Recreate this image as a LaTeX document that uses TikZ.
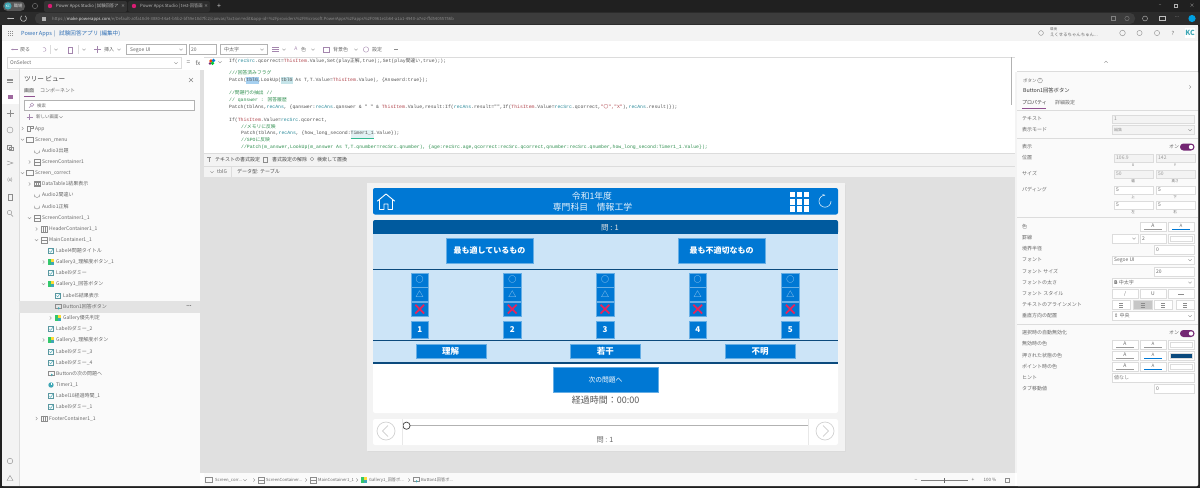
\documentclass[tikz,border=0pt]{standalone}
\usepackage{fontspec}
\usetikzlibrary{arrows.meta}
\setmainfont{Noto Sans CJK JP}
\newfontfamily\cjk{Noto Sans CJK JP}
\newfontfamily\monof{Liberation Mono}
\newfontfamily\dejavu{DejaVu Sans}
\definecolor{chrome}{HTML}{202020}
\definecolor{chromeb}{HTML}{2B2B2B}
\definecolor{tabc}{HTML}{333333}
\definecolor{barg}{HTML}{F3F3F3}
\definecolor{pane}{HTML}{FAFAFA}
\definecolor{canvasg}{HTML}{E0E0E0}
\definecolor{txt}{HTML}{686868}
\definecolor{icong}{HTML}{8C8C8C}
\definecolor{lin}{HTML}{DCDCDC}
\definecolor{pap}{HTML}{742774}
\definecolor{picon}{HTML}{A486AE}
\definecolor{appb}{HTML}{2F6FB5}
\definecolor{ablue}{HTML}{0078D4}
\definecolor{dblue}{HTML}{005A9E}
\definecolor{nblue}{HTML}{0B4A7D}
\definecolor{lblue}{HTML}{CCE4F7}
\definecolor{cvar}{HTML}{2A8A9A}
\definecolor{cthis}{HTML}{B0444C}
\definecolor{ccom}{HTML}{2F8F4F}
\definecolor{ccode}{HTML}{505050}
\definecolor{tealic}{HTML}{3FA7B5}
\definecolor{crim}{HTML}{E8245A}
\tikzset{
 lbl/.style={anchor=west,inner sep=0,text=txt,text height=3.8pt,text depth=.8pt,font=\fontsize{5}{6}\selectfont},
 ctr/.style={anchor=center,inner sep=0,text=txt,font=\fontsize{5}{6}\selectfont},
 code/.style={anchor=west,inner sep=0,text=ccode,text height=3.6pt,text depth=1pt,font=\fontsize{4.8}{6}\monof},
 ic/.style={draw=#1,line width=.4pt,fill=none},
 ic/.default={icong},
 fieldbox/.style={draw=lin,line width=.5pt,fill=white},
 ablock/.style={fill=ablue,draw=ablue!60,line width=.4pt},
}
\newcommand\J[1]{{\cjk #1}}
\newcommand\kVar[1]{\textcolor{cvar}{#1}}
\newcommand\kThis[1]{\textcolor{cthis}{#1}}
% tree icons
\newcommand\icoS[2]{\draw[ic] (#1-3.5,#2-2.5) rectangle (#1+3.5,#2+2.5);}
\newcommand\icoC[2]{\draw[ic] (#1-3,#2-2.8) rectangle (#1+3,#2+2.8); \draw[ic] (#1-3,#2) -- (#1+3,#2);}
\newcommand\icoH[2]{\draw[ic] (#1-3,#2-2.8) rectangle (#1+3,#2+2.8); \draw[ic] (#1-1,#2-2.8) -- (#1-1,#2+2.8) (#1+1,#2-2.8) -- (#1+1,#2+2.8);}
\newcommand\icoL[2]{\draw[ic=tealic!60!gray] (#1-2.5,#2-2.5) rectangle (#1+2.5,#2+2.5); \draw[ic=tealic] (#1-1.5,#2) -- (#1-.3,#2+1.3) -- (#1+2,#2-2);}
\newcommand\icoG[2]{\fill[green!45!teal!80] (#1-2.8,#2-2.8) rectangle (#1,#2+2.8); \fill[yellow!70!orange!80] (#1,#2-2.8) rectangle (#1+2.8,#2); \fill[tealic] (#1,#2) rectangle (#1+2.8,#2+2.8);}
\newcommand\icoB[2]{\draw[ic] (#1-3,#2-2.5) rectangle (#1+3,#2+1.2); \fill[tealic] (#1,#2) -- (#1+2.2,#2+1.5) -- (#1+.8,#2+1.8) -- (#1+.4,#2+3) -- cycle;}
\newcommand\icoA[2]{\draw[ic] (#1-2.5,#2+2) -- (#1-2.5,#2) arc (180:0:2.5) -- (#1+2.5,#2+2);}
\newcommand\icoT[2]{\draw[ic] (#1-3,#2-2.5) rectangle (#1+3,#2+2.5); \fill[icong] (#1-3,#2-2.5) rectangle (#1+3,#2-1); \draw[ic] (#1-1,#2-2.5) -- (#1-1,#2+2.5) (#1+1,#2-2.5) -- (#1+1,#2+2.5) (#1-3,#2+.7) -- (#1+3,#2+.7);}
\newcommand\icoM[2]{\fill[tealic] (#1,#2) circle (2.7); \draw[ic=white] (#1,#2) -- (#1,#2-1.8);}
\newcommand\icoP[2]{\draw[ic] (#1-2.8,#2-2.8) rectangle (#1,#2+2.8); \draw[ic] (#1,#2-2.8) rectangle (#1+2.8,#2);}
% tree row: depth y icon text
\newcommand\chevR[2]{\draw[ic] (#1-.8,#2-1.6) -- (#1+.8,#2) -- (#1-.8,#2+1.6);}
\newcommand\chevD[2]{\draw[ic] (#1-1.6,#2-.8) -- (#1,#2+.8) -- (#1+1.6,#2-.8);}
\newcommand\chevU[2]{\draw[ic] (#1-1.6,#2+.8) -- (#1,#2-.8) -- (#1+1.6,#2+.8);}
\newcommand\rowpos[1]{\pgfmathsetmacro\chx{22.5+#1*7}\pgfmathsetmacro\icx{30+#1*7}\pgfmathsetmacro\tex{35+#1*7}}
\newcommand\rowR[4]{\rowpos{#1}\chevR{\chx}{#2}\csname ico#3\endcsname{\icx}{#2}\node[lbl] at (\tex,#2) {#4};}
\newcommand\rowD[4]{\rowpos{#1}\chevD{\chx}{#2}\csname ico#3\endcsname{\icx}{#2}\node[lbl] at (\tex,#2) {#4};}
\newcommand\rowN[4]{\rowpos{#1}\csname ico#3\endcsname{\icx}{#2}\node[lbl] at (\tex,#2) {#4};}
% property panel helpers
\newcommand\pl[2]{\node[lbl] at (1022,#1) {#2};}
\newcommand\fb[5]{\draw[fieldbox] (#1,#3) rectangle (#2,#4); \node[lbl] at (#1+2,{(#3+#4)/2}) {#5};}
\newcommand\fbd[5]{\draw[fieldbox,fill=barg] (#1,#3) rectangle (#2,#4); \node[lbl,text=gray!80] at (#1+2,{(#3+#4)/2}) {#5};}
\newcommand\colA[2]{\draw[fieldbox] (#1,#2-4.5) rectangle (#1+26,#2+4.5); \node[ctr] at (#1+13,#2-.5) {A}; \draw[gray!80,line width=.5pt] (#1+4,#2+3) -- (#1+22,#2+3);}
\newcommand\colF[3]{\draw[fieldbox] (#1,#2-4.5) rectangle (#1+26,#2+4.5); \node[ctr] at (#1+13,#2-1) {\fontsize{4.5}{5}\selectfont A}; \draw[#3,line width=.7pt] (#1+4,#2+3) -- (#1+22,#2+3);}
\newcommand\colS[3]{\draw[fieldbox] (#1,#2-4.5) rectangle (#1+26,#2+4.5); \fill[#3] (#1+2,#2-2.5) rectangle (#1+24,#2+2.5); \draw[lin,line width=.3pt] (#1+2,#2-2.5) rectangle (#1+24,#2+2.5);}
\begin{document}
\begin{tikzpicture}[x=1pt,y=-1pt]
\useasboundingbox (0,0) rectangle (1200,488);
\fill[chrome] (0,0) rectangle (1200,488);
% browser chrome
\fill[chromeb] (0,12) rectangle (1200,25);
\fill[tabc,rounded corners=2pt] (44,1) rectangle (127,12);
\fill[tabc!70!chrome,rounded corners=2pt] (128,1) rectangle (210,12);
\fill[white!25!chrome,rounded corners=4.5pt] (3,1.5) rectangle (25,11);
\fill[tealic] (8,6) circle (3.6);
\node[ctr,text=white,font=\fontsize{3.2}{4}\selectfont] at (8,6) {KC};
\node[ctr,text=white!85!black,font=\fontsize{4.2}{5}\selectfont] at (18,6) {職場};
\draw[ic=gray] (35,6) circle (2.6);
\fill[magenta!60!purple] (50,6) circle (2.2);
\node[lbl,text=white!75!black,font=\fontsize{4.3}{5}\selectfont] at (56,6) {Power Apps Studio | 試験回答ア};
\node[ctr,text=white!75!black] at (123,6) {\fontsize{4}{5}\selectfont ×};
\fill[magenta!60!purple] (134,6) circle (2.2);
\node[lbl,text=white!70!black,font=\fontsize{4.3}{5}\selectfont] at (140,6) {Power Apps Studio | test-回答画};
\node[ctr,text=white!75!black] at (206,6) {\fontsize{4}{5}\selectfont ×};
\node[ctr,text=white!80!black,font=\fontsize{7}{8}\selectfont] at (219,6) {+};
\node[ctr,text=white!70!black,font=\fontsize{4.5}{5}\selectfont] at (1160,6) {−};
\draw[ic=white!70!black] (1174.5,4.5) rectangle (1177,7);
\node[ctr,text=white!70!black,font=\fontsize{5}{5}\selectfont] at (1192,6) {×};
\fill[white!8!chromeb,rounded corners=5pt] (35,13) rectangle (1135,24);
\draw[white!75!black,line width=.6pt,-{Stealth[length=2pt]}] (14,18.5) -- (7,18.5);
\draw[white!75!black,line width=.6pt] (25,15.8) arc (-60:240:3);
\fill[white!70!black] (42,17) rectangle (46,21);
\node[lbl,text=white!55!black,font=\fontsize{4.2}{5}\selectfont] at (52,18.5) {https://\textcolor{white!90!black}{make.powerapps.com}/e/Default-a0fa18d4-3880-44a4-b5b2-bf59e18d7fc2/canvas/?action=edit\&app-id=\%2Fproviders\%2FMicrosoft.PowerApps\%2Fapps\%2F0961e1b64-a1a1-4940-a7e2-ffd54055756b};
\draw[ic=white!50!black] (1111,16.5) rectangle (1115,20.5);
\draw[ic=white!50!black] (1127,18.5) circle (2.2);
\draw[ic=white!75!black] (1145,18.5) circle (2.5);
\draw[ic=white!75!black] (1159.5,16.5) rectangle (1165,20.5);
\node[ctr,text=white!75!black,font=\fontsize{5}{5}\selectfont] at (1177,17.5) {...};
\fill[ablue!70!cyan] (1192,18.5) circle (3.6);
% application window
\fill[white,rounded corners=1.5pt] (2,25) rectangle (1198,486);
\fill[barg] (2,25) rectangle (1198,41);
\foreach \i in {7.5,9.5,11.5} \foreach \j in {31,33,35} \fill[icong] (\i,\j) rectangle +(1.1,1.1);
\node[lbl,text=appb,font=\fontsize{5.6}{6}\selectfont] at (21,33.5) {Power Apps};
\node[lbl,text=appb!70!gray,font=\fontsize{5.6}{6}\selectfont] at (53.5,33.5) {|};
\node[lbl,text=appb,font=\fontsize{5.6}{6}\selectfont] at (59,33.5) {試験回答アプリ (編集中)};
% header right
\draw[ic] (1041,33) circle (2.4);
\node[lbl,font=\fontsize{3.4}{4}\selectfont] at (1050,29.3) {環境};
\node[lbl,font=\fontsize{4.4}{5}\selectfont] at (1050,34.8) {えくせるちゃんちゅん...};
\draw[ic] (1122.5,33) circle (2.8);
\draw[ic] (1139.5,33) circle (2.6);
\draw[ic] (1157,33) circle (2.6);
\node[ctr,font=\fontsize{5.5}{6}\selectfont] at (1173,33) {?};
\fill[white] (1185,28) rectangle (1195,38);
\node[ctr,text=tealic,font=\fontsize{7}{8}\bfseries\selectfont] at (1190,33) {KC};
% toolbar
\draw[picon,line width=.5pt,-{Stealth[length=2pt]}] (18,49.5) -- (11,49.5);
\node[lbl] at (20,49.5) {戻る};
\draw[ic=picon] (43,47.8) arc (-120:120:2) ;
\draw[lin] (50,45) -- (50,54);
\chevD{56}{49.5}
\draw[ic=picon] (68,47) rectangle (72.5,53);
\draw[lin] (78,45) -- (78,54);
\chevD{84}{49.5}
\draw[picon,line width=.5pt] (94,49.5) -- (101,49.5) (97.5,46) -- (97.5,53);
\node[lbl] at (104,49.5) {挿入};
\chevD{119}{49.5}
\draw[fieldbox,draw=gray!60] (126,44.5) rectangle (186,54);
\node[lbl] at (130,49.5) {Segoe UI};
\chevD{181}{49.5}
\draw[fieldbox,draw=gray!60] (189,44.5) rectangle (216,54);
\node[lbl] at (191,49.5) {20};
\draw[fieldbox,draw=gray!60] (220,44.5) rectangle (267,54);
\node[lbl] at (224,49.5) {中太字};
\chevD{262}{49.5}
\draw[ic=picon] (272,47.5) -- (279,47.5) (272,49.5) -- (279,49.5) (272,51.5) -- (279,51.5);
\chevD{284}{49.5}
\node[ctr,text=picon] at (296,49) {A};
\node[lbl] at (301,49.5) {色};
\chevD{313}{49.5}
\draw[ic=picon] (323,47.5) rectangle (329,52);
\node[lbl] at (333,49.5) {背景色};
\chevD{356}{49.5}
\draw[ic=picon] (366,49.5) circle (2.7);
\node[lbl] at (372,49.5) {設定};
\draw[icong] (394,49.5) -- (398,49.5);
% toolbar right
\draw[ic=picon] (1064,52) -- (1069,46.5);
\node[lbl] at (1072,49.5) {編集};
\draw[lin] (1086,45) -- (1086,54);
\draw[ic=picon] (1091.5,47.5) rectangle (1096.5,52);
\draw[ic=picon] (1110,49.5) circle (2.6);
\draw[ic=picon] (1124.5,47) rectangle (1130,51.5);
\draw[ic=picon] (1142.5,47) -- (1147,49.5) -- (1142.5,52) -- cycle;
\draw[ic=gray!50] (1157,47) rectangle (1162,52);
\draw[lin] (1165.5,45) -- (1165.5,54);
\chevD{1171}{49.5}
\fill[pap!80] (1183.5,47) rectangle (1189,52);
% formula bar
\draw[fieldbox] (7,57.5) rectangle (181,68.5);
\node[lbl] at (10,63) {OnSelect};
\chevD{176}{63}
\node[ctr,font=\fontsize{6.5}{7}\selectfont] at (188.5,63) {=};
\node[ctr,font=\fontsize{6}{7}\itshape\selectfont] at (198,63) {fx};
% code editor
\fill[white] (204,57) rectangle (1012,153);
\draw[lin,line width=.4pt] (204,57) -- (1015,57);
\fill[gray!60] (1010.5,57) rectangle (1012,105);
\fill[orange!50!red] (211,61) circle (1.8);
\fill[ablue] (213.5,60.5) circle (1.8);
\fill[green!60!teal] (212.5,63.2) circle (1.8);
\fill[pap] (210,63.5) circle (1.3);
\chevD{220}{62}
\fill[ablue!35] (246,77) rectangle (259,84);
\fill[tealic!30] (281,77) rectangle (293,84);
\draw[tealic!80!green,line width=.5pt] (350.5,138) -- (373.5,138);
\fill[tealic!15] (350.5,130) rectangle (373.5,137.5);
\node[code] at (229,61) {If(\kVar{recSrc}.qcorrect=\kThis{ThisItem}.Value,Set(play\J{正解},true);,Set(play\J{間違い},true););};
\node[code,text=ccom] at (229,73.5) {///\J{回答済みフラグ}};
\node[code] at (229,80.5) {Patch(tblG,LookUp(tblG As T,T.Value=\kThis{ThisItem}.Value), \{Answerd:true\});};
\node[code,text=ccom] at (229,93.5) {//\J{問題行の抽出} //};
\node[code,text=ccom] at (229,100) {// qanswer : \J{回答履歴}};
\node[code] at (229,107) {Patch(tblAns,\kVar{recAns}, \{qanswer:\kVar{recAns}.qanswer \& " " \& \kThis{ThisItem}.Value,result:If(\kVar{recAns}.result="",If(\kThis{ThisItem}.Value=\kVar{recSrc}.qcorrect,\kThis{"\J{〇}","X"}),\kVar{recAns}.result)\});};
\node[code] at (229,120.5) {If(\kThis{ThisItem}.Value=\kVar{recSrc}.qcorrect,};
\node[code,text=ccom] at (241,127) {//\J{メモリに反映}};
\node[code] at (241,133.5) {Patch(tblAns,\kVar{recAns}, \{how\_long\_second:Timer1\_1.Value\});};
\node[code,text=ccom] at (241,140) {//SPO\J{に反映}};
\node[code,text=ccom] at (241,147) {//Patch(m\_answer,LookUp(m\_answer As T,T.qnumber=recSrc.qnumber), \{age:recSrc.age,qcorrect:recSrc.qcorrect,qnumber:recSrc.qnumber,how\_long\_second:Timer1\_1.Value\});};
% editor bars
\fill[barg] (204,153) rectangle (1015,166);
\fill[barg] (204,166) rectangle (1015,177);
\draw[lin,line width=.4pt] (204,153) -- (1015,153) (204,166) -- (1015,166);
\draw[ic] (207,157.5) -- (211,157.5) (209,157.5) -- (209,162);
\node[lbl,text=txt!70!black] at (215,160) {テキストの書式設定};
\draw[ic] (263.5,157) rectangle (267.5,162);
\node[lbl,text=txt!70!black] at (272,160) {書式設定の解除};
\draw[ic] (312,159) circle (1.8);
\node[lbl,text=txt!70!black] at (317,160) {検索して置換};
\chevD{212}{172}
\node[lbl] at (217,172) {tblG};
\draw[lin] (231.5,167) -- (231.5,177);
\node[lbl,text=txt!70!black] at (237,172) {データ型: テーブル};
% canvas
\fill[canvasg] (204,177) rectangle (1015,473);
% right panel
\fill[white] (1015,41) rectangle (1198,71.5);
\chevU{1106}{62}
\fill[pane,rounded corners=1pt] (1017,71.5) rectangle (1198,486);
\fill[barg] (1015,71.5) rectangle (1017,473);
\draw[lin,line width=.4pt] (1017,71.5) -- (1198,71.5);
\node[lbl,font=\fontsize{4.5}{5}\selectfont] at (1023,81) {ボタン};
\draw[ic] (1040,80.5) circle (2.4);
\node[ctr,font=\fontsize{3.5}{4}\selectfont] at (1040,80.5) {?};
\node[lbl,text=black!80,font=\fontsize{5.3}{6}\selectfont] at (1023,91) {Button1回答ボタン};
\chevR{1190}{87}
\node[lbl,text=black!75] at (1022,103) {プロパティ};
\node[lbl] at (1055,103) {詳細設定};
\fill[pap!80] (1022,107.6) rectangle (1046,108.6);
\draw[lin] (1017,110) -- (1198,110);
\pl{119}{テキスト}
\fbd{1112}{1194}{115}{123}{1}
\pl{130}{表示モード}
\fbd{1112}{1194}{125.5}{134}{\fontsize{4}{5}\selectfont 編集}
\chevD{1190}{130}
\draw[lin] (1017,138) -- (1198,138);
\pl{147}{表示}
\node[lbl] at (1169,147) {オン};
\fill[pap,rounded corners=3.4pt] (1180,143.5) rectangle (1194.5,150.5);
\fill[white] (1191,147) circle (2.2);
\pl{158}{位置}
\fbd{1114}{1153}{154}{162}{106.9}
\fbd{1156}{1195}{154}{162}{142}
\node[ctr,font=\fontsize{3.5}{4}\selectfont] at (1133,165.5) {X};
\node[ctr,font=\fontsize{3.5}{4}\selectfont] at (1175,165.5) {Y};
\pl{174}{サイズ}
\fbd{1114}{1153}{170}{178}{50}
\fbd{1156}{1195}{170}{178}{50}
\node[ctr,font=\fontsize{3.5}{4}\selectfont] at (1133,181.5) {幅};
\node[ctr,font=\fontsize{3.5}{4}\selectfont] at (1175,181.5) {高さ};
\pl{190}{パディング}
\fb{1114}{1153}{186}{194}{5}
\fb{1156}{1195}{186}{194}{5}
\node[ctr,font=\fontsize{3.5}{4}\selectfont] at (1133,197.5) {上};
\node[ctr,font=\fontsize{3.5}{4}\selectfont] at (1175,197.5) {下};
\fb{1114}{1153}{201}{209}{5}
\fb{1156}{1195}{201}{209}{5}
\node[ctr,font=\fontsize{3.5}{4}\selectfont] at (1133,212.5) {左};
\node[ctr,font=\fontsize{3.5}{4}\selectfont] at (1175,212.5) {右};
\draw[lin] (1017,217) -- (1198,217);
\pl{227}{色}
\colA{1140}{226.5}
\colF{1168}{226.5}{ablue}
\pl{238}{罫線}
\draw[fieldbox] (1112,234) rectangle (1138,243);
\chevD{1134}{238.5}
\fb{1140}{1166}{234}{243}{2}
\colS{1168}{238.5}{white}
\pl{249}{境界半径}
\fb{1154}{1194}{245}{254}{0}
\pl{260}{フォント}
\fb{1112}{1194}{256}{264.5}{Segoe UI}
\chevD{1190}{260}
\pl{271.5}{フォント サイズ}
\fb{1154}{1194}{267}{276}{20}
\pl{282.5}{フォントの太さ}
\fb{1112}{1194}{278}{287}{\textbf{B} 中太字}
\chevD{1190}{282.5}
\pl{294}{フォント スタイル}
\draw[fieldbox] (1112,289.5) rectangle (1138,298.5);
\node[ctr,font=\fontsize{5}{6}\itshape\selectfont] at (1125,294) {/};
\draw[fieldbox] (1140,289.5) rectangle (1166,298.5);
\node[ctr] at (1153,294) {U};
\draw[fieldbox] (1168,289.5) rectangle (1194,298.5);
\draw[icong] (1178,294) -- (1184,294);
\pl{305}{テキストのアラインメント}
\foreach \xa/\xb/\fc in {1112/1130/white,1133/1152/gray!45,1154/1172/white,1176/1194/white}{
 \draw[fieldbox,fill=\fc] (\xa,300.5) rectangle (\xb,309.5);
 \draw[ic] ({(\xa+\xb)/2-2},303) -- ({(\xa+\xb)/2+2},303) ({(\xa+\xb)/2-2},305) -- ({(\xa+\xb)/2+2},305) ({(\xa+\xb)/2-2},307) -- ({(\xa+\xb)/2+2},307);
}
\pl{316}{垂直方向の配置}
\fb{1112}{1194}{311.5}{320.5}{{\dejavu ⇕} 中央}
\chevD{1190}{316}
\draw[lin] (1017,324) -- (1198,324);
\pl{333}{選択時の自動無効化}
\node[lbl] at (1169,333) {オン};
\fill[pap,rounded corners=3.4pt] (1180,330) rectangle (1194.5,337);
\fill[white] (1191,333.5) circle (2.2);
\pl{344}{無効時の色}
\colA{1112}{344.5}
\colF{1140}{344.5}{gray!80}
\colS{1168}{344.5}{white}
\pl{356}{押された状態の色}
\colA{1112}{355.5}
\colF{1140}{355.5}{ablue}
\colS{1168}{355.5}{nblue}
\pl{366.5}{ポイント時の色}
\colA{1112}{366.5}
\colF{1140}{366.5}{ablue}
\colS{1168}{366.5}{white}
\pl{378}{ヒント}
\fb{1112}{1194}{373.5}{382}{\textcolor{gray}{値なし}}
\pl{389}{タブ移動値}
\fb{1154}{1194}{384.5}{393.5}{0}
% left rail and tree pane
\fill[barg] (2,69) rectangle (19,486);
\fill[white] (2,90) rectangle (19,104);
\fill[pane] (19,69) rectangle (200,486);
\fill[canvasg] (200,69) rectangle (204,473);
\fill[white] (2,69) rectangle (204,70);
\draw[lin,line width=.4pt] (19,69) -- (19,486);
\draw[ic] (7,79) -- (13,79) (7,80.5) -- (13,80.5) (7,82) -- (13,82);
\fill[pap!70] (7.5,95) rectangle (12.5,99);
\draw[icong,line width=.4pt] (6.5,113) -- (13.5,113) (10,109.5) -- (10,116.5);
\draw[ic] (10,130) circle (3);
\draw[ic] (7,145) rectangle (11,149); \draw[ic] (9.5,147) rectangle (13,150.5);
\draw[ic] (7,161) -- (13,163) -- (7,165);
\node[ctr,font=\fontsize{4.5}{5}\selectfont] at (10,180) {(x)};
\draw[ic] (8,194) rectangle (12,200);
\draw[ic] (9.5,212.5) circle (2.2); \draw[ic] (11,214.5) -- (13,216.5);
\draw[ic] (10,461) circle (2.8);
\draw[ic] (7,480.5) -- (10,475.5) -- (13,480.5) -- cycle;
\node[lbl,text=black!75,font=\fontsize{6.6}{8}\selectfont] at (24,80) {ツリー ビュー};
\draw[icong,line width=.5pt] (189,78) -- (193,82) (189,82) -- (193,78);
\node[lbl,text=black!75] at (24,91.3) {画面};
\node[lbl] at (40,91.3) {コンポーネント};
\fill[pap!80] (24,95.7) rectangle (34.5,96.6);
\draw[fieldbox,draw=gray!60] (24.5,100.5) rectangle (194.5,110.5);
\draw[ic=picon] (32,104.7) circle (1.8); \draw[ic=picon] (30.7,106) -- (29,107.8);
\node[lbl,font=\fontsize{4.3}{5}\selectfont] at (37,105.5) {検索};
\draw[picon,line width=.5pt] (26.5,117) -- (32.5,117) (29.5,114) -- (29.5,120);
\node[lbl,font=\fontsize{4.5}{5}\selectfont] at (36,117) {新しい画面};
\chevD{61}{117}
\rowR{0}{128.5}{P}{App}
\rowD{0}{139.5}{S}{Screen\_menu}
\rowN{1}{151}{A}{Audio3出題}
\rowR{1}{162}{C}{ScreenContainer1}
\rowD{0}{173}{S}{Screen\_correct}
\rowR{1}{184}{T}{DataTable1結果表示}
\rowN{1}{195}{A}{Audio2間違い}
\rowN{1}{206.5}{A}{Audio1正解}
\rowD{1}{218}{C}{ScreenContainer1\_1}
\rowR{2}{229}{H}{HeaderContainer1\_1}
\rowD{2}{240}{C}{MainContainer1\_1}
\rowN{3}{251}{L}{Label4問題タイトル}
\rowR{3}{262}{G}{Gallery3\_理解度ボタン\_1}
\rowN{3}{273}{L}{Label9ダミー}
\rowD{3}{284}{G}{Gallery1\_回答ボタン}
\rowN{4}{295.5}{L}{Label5結果表示}
\fill[gray!22] (19,301) rectangle (200,312.5);
\rowN{4}{307}{B}{Button1回答ボタン}
\node[ctr,font=\fontsize{5}{6}\bfseries\selectfont] at (189,306) {...};
\rowR{4}{318}{G}{Gallery優先判定}
\rowN{3}{329}{L}{Label9ダミー\_2}
\rowR{3}{340}{G}{Gallery3\_理解度ボタン}
\rowN{3}{351.5}{L}{Label9ダミー\_3}
\rowN{3}{362.5}{L}{Label9ダミー\_4}
\rowN{3}{373.5}{B}{Buttonの次の問題へ}
\rowN{3}{385}{M}{Timer1\_1}
\rowN{3}{396}{L}{Label10経過時間\_1}
\rowN{3}{407}{L}{Label9ダミー\_1}
\rowR{2}{418.5}{H}{FooterContainer1\_1}
% status bar
\fill[pane] (204,473) rectangle (1015,486);
\icoS{209}{480}
\node[lbl,font=\fontsize{4.2}{5}\selectfont] at (215,480) {Screen\_corr...};
\chevD{245}{480}
\chevR{254}{480}
\icoC{261}{480}
\node[lbl,font=\fontsize{4.2}{5}\selectfont] at (266,480) {ScreenContainer...};
\chevR{306}{480}
\icoC{313}{480}
\node[lbl,font=\fontsize{4.2}{5}\selectfont] at (318,480) {MainContainer1\_1};
\chevR{357}{480}
\icoG{364}{480}
\node[lbl,font=\fontsize{4.2}{5}\selectfont] at (369,480) {Gallery1\_回答ボ...};
\chevR{409}{480}
\icoB{416}{480}
\node[lbl,font=\fontsize{4.2}{5}\selectfont] at (421,480) {Button1回答ボ...};
\node[ctr] at (916,480) {−};
\draw[gray,line width=.5pt] (921,480) -- (968,480);
\fill[txt] (943.5,477.5) rectangle (945,482.5);
\node[ctr] at (973,480) {+};
\node[ctr,font=\fontsize{4.5}{5}\selectfont] at (990,480) {100 \%};
\draw[ic] (1005,478) rectangle (1009.5,482);
% preview
\fill[black!14] (368,185) rectangle (846,452);
\fill[barg] (367,183) rectangle (845,451);
\fill[ablue,rounded corners=2pt] (373,188) rectangle (838,214.5);
\fill[white,rounded corners=2pt] (373,220) rectangle (838,413);
\fill[dblue,rounded corners=2pt] (373,220) rectangle (838,234);
\fill[dblue] (373,228) rectangle (838,234);
\fill[lblue] (373,233.5) rectangle (838,363);
\draw[white,line width=.9pt,line join=round,line cap=round] (377.5,201) -- (386,194) -- (394.5,201) (379.5,199.5) -- (379.5,209.5) -- (384,209.5) -- (384,204) -- (388,204) -- (388,209.5) -- (392.5,209.5) -- (392.5,199.5);
\node[ctr,text=white!90!ablue,font=\fontsize{8.8}{10}\selectfont] at (592,196) {令和1年度};
\node[ctr,text=white!90!ablue,font=\fontsize{8.8}{10}\selectfont] at (592.5,207.5) {専門科目　情報工学};
\foreach \i in {0,1,2} \foreach \j in {0,1,2} \fill[white] ({789.5+\i*7.2},{192+\j*7.2}) rectangle +(5.4,5.4);
\draw[white!85!ablue,line width=.6pt] (825,195.2) arc (-90:-360:6);
\draw[white!85!ablue,line width=.6pt] (822.5,194.5) -- (825,195.2);
\node[ctr,text=white!90!black,font=\fontsize{7.5}{9}\selectfont] at (610,227.5) {問 : 1};
\node[ablock,minimum width=87pt,minimum height=25pt,inner sep=0,text=white,font=\fontsize{8}{9}\bfseries\selectfont] at (489.5,250.5) {最も適しているもの};
\node[ablock,minimum width=87pt,minimum height=25pt,inner sep=0,text=white,font=\fontsize{8}{9}\bfseries\selectfont] at (721.5,250.5) {最も不適切なもの};
\draw[nblue,line width=1.2pt] (373,269.3) -- (838,269.3) (373,340.6) -- (838,340.6) (373,363) -- (838,363);
\foreach \cx/\n in {419.7/1,512.3/2,605/3,697.7/4,790.3/5}{
 \node[ablock,minimum width=17.5pt,minimum height=14pt,inner sep=0,text=lblue,font=\fontsize{8}{9}\selectfont] at (\cx,279.8) {○};
 \node[ablock,minimum width=17.5pt,minimum height=14pt,inner sep=0,text=lblue,font=\fontsize{8}{9}\selectfont] at (\cx,294.5) {△};
 \fill[ablue] (\cx-8.75,302) rectangle (\cx+8.75,316);
 \draw[ablue!60,line width=.4pt] (\cx-8.75,302) rectangle (\cx+8.75,316);
 \draw[crim,line width=1.8pt] (\cx-4.4,304.7) -- (\cx+4.4,313.5) (\cx-4.4,313.5) -- (\cx+4.4,304.7);
 \node[ablock,minimum width=17.5pt,minimum height=17.5pt,inner sep=0,text=white,font=\fontsize{8}{9}\bfseries\selectfont] at (\cx,329.5) {\n};
}
\foreach \cx/\s in {450.7/理解,605.3/若干,760/不明}{
 \node[ablock,minimum width=70pt,minimum height=14pt,inner sep=0,text=white,font=\fontsize{8.5}{9}\bfseries\selectfont] at (\cx,351) {\s};
}
\node[ablock,minimum width=105pt,minimum height=24.5pt,inner sep=0,text=white,font=\fontsize{6.8}{8}\selectfont] at (605.5,379.7) {次の問題へ};
\node[ctr,text=black!65,font=\fontsize{9}{10}\selectfont] at (605.5,399.7) {経過時間：00:00};
\fill[white,rounded corners=2pt] (373,419) rectangle (838,445);
\draw[gray!60,line width=.7pt] (406.5,425.7) -- (809,425.7);
\draw[black!70,fill=white,line width=.8pt] (406.5,425.7) circle (3.6);
\draw[gray!18,line width=.3pt] (402.5,419) -- (402.5,445) (808.5,419) -- (808.5,445);
\node[ctr,font=\fontsize{7.2}{8}\selectfont] at (605,439.5) {問 : 1};
\draw[gray!35,line width=.7pt] (386,431) circle (9);
\draw[gray!35,line width=.7pt] (825,431) circle (9);
\draw[gray!50,line width=.6pt] (388,425.5) -- (382.5,431) -- (388,436.5);
\draw[gray!50,line width=.6pt] (823,425.5) -- (828.5,431) -- (823,436.5);
\end{tikzpicture}
\end{document}
